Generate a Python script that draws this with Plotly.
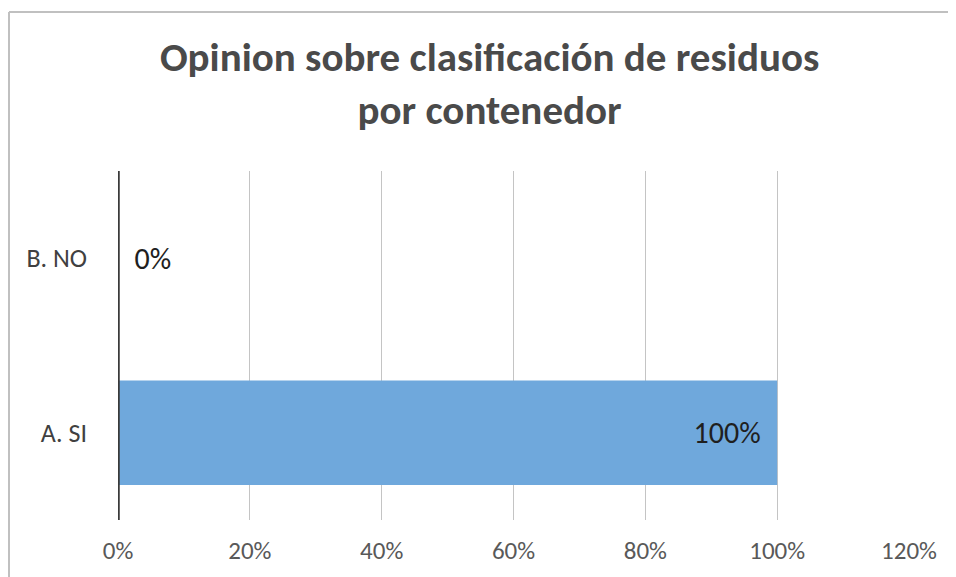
import plotly.graph_objects as go

categories = ["A. SI", "B. NO"]
values = [1.0, 0.0]
value_labels = ["100%\u00a0\u00a0", "\u00a0\u00a00%"]
tick_vals = [0, 0.2, 0.4, 0.6, 0.8, 1.0, 1.2]
tick_text = ["0%", "20%", "40%", "60%", "80%", "100%", "120%"]
title_text = "Opinion sobre clasificación de residuos<br>por contenedor"

FONT = "Carlito, Calibri, Lato, 'Open Sans', sans-serif"

fig = go.Figure()
fig.add_trace(go.Bar(
    y=categories,
    x=values,
    orientation="h",
    marker=dict(color="#6fa8dc", line=dict(width=0)),
    width=0.6,
    text=value_labels,
    textposition=["inside", "outside"],
    insidetextanchor="end",
    textfont=dict(family=FONT, size=30, color="#1f1f1f"),
    cliponaxis=False,
))

fig.update_layout(
    width=948, height=569,
    margin=dict(l=110, r=47, t=163, b=57),
    paper_bgcolor="white", plot_bgcolor="white",
    showlegend=False,
    title=dict(text="<b>" + title_text + "</b>", x=0.508, xanchor="center",
               y=0.889, yanchor="middle",
               font=dict(family=FONT, size=41, color="#4a4a4a")),
    xaxis=dict(range=[0, 1.2], tickvals=tick_vals, ticktext=tick_text,
               showgrid=True, gridcolor="#c4c4c4", gridwidth=1.3,
               zeroline=False, showline=False, ticks="",
               ticklabelstandoff=13,
               tickfont=dict(family=FONT, size=25, color="#595959")),
    yaxis=dict(showgrid=False, zeroline=False, showline=False, ticks="",
               ticklabelstandoff=30,
               tickfont=dict(family=FONT, size=26, color="#404040")),
    shapes=[
        dict(type="line", xref="x", yref="paper", x0=0, x1=0, y0=0, y1=1,
             layer="above", line=dict(color="#3a3a3a", width=3.5)),
        dict(type="line", xref="paper", yref="paper", x0=-109 / 791, x1=-109 / 791,
             y0=-0.2, y1=1.4556, line=dict(color="#c0c0c0", width=2)),
        dict(type="line", xref="paper", yref="paper", x0=-109 / 791, x1=1.1,
             y0=1.4556, y1=1.4556, line=dict(color="#c0c0c0", width=2)),
    ],
)

fig.write_html("out.html")
